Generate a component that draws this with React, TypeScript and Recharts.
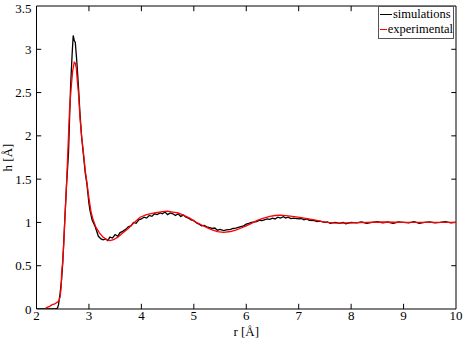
import { LineChart, Line, XAxis, YAxis, ReferenceLine } from 'recharts';

// simulated h(r)
const simR = [
  2.0, 2.35, 2.4, 2.42, 2.45, 2.48, 2.5, 2.52, 2.54, 2.57, 2.61, 2.65, 2.68, 2.7, 2.72, 2.74, 2.77, 2.8,
  2.83, 2.86, 2.9, 2.93, 2.96, 3.0, 3.02, 3.06, 3.12, 3.18, 3.23, 3.27, 3.32, 3.36, 3.4, 3.45, 3.5, 3.55,
  3.59, 3.65, 3.7, 3.75, 3.8, 3.85, 3.9, 3.95, 4.0, 4.05, 4.1, 4.15, 4.2, 4.25, 4.3, 4.36, 4.4, 4.45, 4.5,
  4.55, 4.6, 4.65, 4.7, 4.75, 4.8, 4.85, 4.9, 4.95, 5.0, 5.06, 5.1, 5.15, 5.2, 5.25, 5.3, 5.35, 5.4, 5.45,
  5.5, 5.57, 5.62, 5.7, 5.75, 5.8, 5.88, 5.95, 6.0, 6.05, 6.1, 6.2, 6.25, 6.3, 6.4, 6.45, 6.5, 6.55, 6.6,
  6.65, 6.71, 6.75, 6.8, 6.85, 6.9, 7.0, 7.05, 7.1, 7.16, 7.2, 7.3, 7.35, 7.4, 7.5, 7.55, 7.6, 7.7, 7.78,
  7.85, 7.9, 8.0, 8.1, 8.2, 8.3, 8.4, 8.5, 8.6, 8.7, 8.8, 8.9, 9.0, 9.1, 9.2, 9.3, 9.4, 9.5, 9.6, 9.7, 9.8,
  9.9, 10.0,
];
const simH = [
  0, 0, 0.01, 0.05, 0.18, 0.35, 0.53, 0.78, 1.03, 1.4, 1.8, 2.57, 2.95, 3.16, 3.1, 3.08, 2.85, 2.57,
  2.25, 1.99, 1.75, 1.57, 1.45, 1.22, 1.14, 1.03, 0.95, 0.84, 0.81, 0.8, 0.81, 0.79, 0.83, 0.82, 0.86, 0.84,
  0.88, 0.9, 0.92, 0.95, 0.96, 1.0, 0.99, 1.03, 1.04, 1.06, 1.05, 1.08, 1.07, 1.1, 1.09, 1.11, 1.1, 1.12, 1.09,
  1.11, 1.1, 1.08, 1.1, 1.07, 1.085, 1.06, 1.05, 1.03, 1.02, 0.99, 0.98, 0.96, 0.965, 0.95, 0.94, 0.93, 0.935, 0.91,
  0.92, 0.905, 0.915, 0.92, 0.93, 0.935, 0.95, 0.96, 0.98, 0.99, 1.0, 1.01, 1.025, 1.02, 1.04, 1.035, 1.05, 1.04, 1.06,
  1.05, 1.066, 1.05, 1.06, 1.045, 1.05, 1.04, 1.045, 1.03, 1.04, 1.025, 1.02, 1.01, 1.015, 1.0, 1.005, 0.99, 1.0, 0.99,
  1.0, 0.985, 1.0, 0.995, 1.005, 0.99, 1.0, 1.01, 0.995, 1.005, 0.99, 1.005, 1.0, 0.995, 1.01, 0.99, 1.0, 1.005, 0.995, 1.0, 1.01,
  0.995, 1.0,
];

// experimental h(r), red trace
const expR = [
  2.16, 2.2, 2.25, 2.3, 2.35, 2.4, 2.43, 2.45, 2.47, 2.48, 2.5, 2.52, 2.54, 2.57, 2.6, 2.63, 2.66, 2.69,
  2.72, 2.74, 2.76, 2.78, 2.8, 2.83, 2.86, 2.9, 2.93, 2.96, 3.0, 3.04, 3.08, 3.13, 3.2, 3.27, 3.34, 3.4,
  3.47, 3.55, 3.65, 3.75, 3.85, 3.975, 4.1, 4.25, 4.4, 4.5, 4.6, 4.7, 4.8, 4.93, 5.05, 5.15, 5.25, 5.35,
  5.45, 5.57, 5.7, 5.8, 5.88, 6.0, 6.1, 6.2, 6.3, 6.45, 6.55, 6.65, 6.8, 6.95, 7.05, 7.16, 7.3, 7.45, 7.55,
  7.66, 7.8, 8.0, 8.3, 8.6, 9.0, 9.5, 10.0,
];
const expH = [
  0, 0.02, 0.03, 0.05, 0.06, 0.08, 0.1, 0.14, 0.25, 0.42, 0.55, 0.75, 1.03, 1.4, 1.85, 2.3, 2.55, 2.75,
  2.85, 2.84, 2.78, 2.62, 2.5, 2.2, 2.0, 1.78, 1.6, 1.47, 1.28, 1.12, 1.03, 0.95, 0.88, 0.83, 0.8, 0.79,
  0.8, 0.83, 0.88, 0.93, 0.99, 1.06, 1.09, 1.11, 1.125, 1.13, 1.12, 1.11, 1.085, 1.047, 1.0, 0.97, 0.94, 0.915,
  0.895, 0.885, 0.895, 0.91, 0.93, 0.96, 0.99, 1.02, 1.045, 1.07, 1.08, 1.085, 1.075, 1.065, 1.055, 1.045, 1.03, 1.01, 1.0,
  0.995, 0.993, 0.995, 1.0, 1.005, 1.0, 1.0, 1.0,
];

const xTicks = [2, 3, 4, 5, 6, 7, 8, 9, 10];
const yTicks = [0, 0.5, 1, 1.5, 2, 2.5, 3, 3.5];

const simData = simR.map((r, i) => ({ r, h: simH[i] }));
const expData = expR.map((r, i) => ({ r, h: expH[i] }));

const font = '"Liberation Serif", "Times New Roman", serif';
const tickStyle = { fill: '#000', fontSize: 13, fontFamily: font, style: { fontFamily: font } };

function LegendBox() {
  const row = (color: string, text: string) => (
    <div style={{ display: 'flex', alignItems: 'center', height: 15 }}>
      <span style={{ display: 'inline-block', width: 12, height: 0, borderTop: `1.5px solid ${color}`, marginRight: 1 }} />
      <span>{text}</span>
    </div>
  );
  return (
    <div
      style={{
        position: 'absolute',
        top: 6,
        left: 378,
        width: 76,
        boxSizing: 'border-box',
        border: '1px solid #555',
        background: '#fff',
        fontFamily: font,
        fontSize: 12.5,
        color: '#000',
        padding: '0 0 1px 1px',
        lineHeight: '15px',
        whiteSpace: 'nowrap',
      }}
    >
      {row('#000', 'simulations')}
      {row('#ff0000', 'experimental')}
    </div>
  );
}

export default function App() {
  return (
    <div style={{ position: 'relative', width: 463, height: 341, background: '#fff', fontFamily: font }}>
      <style>{'body{margin:0}'}</style>
      <LineChart width={463} height={341} margin={{ top: 6, right: 7, bottom: 2, left: 6 }}>
        <XAxis
          type="number"
          dataKey="r"
          domain={[2, 10]}
          ticks={xTicks}
          allowDataOverflow
          tickLine={false}
          tickSize={0}
          tickMargin={2}
          height={30}
          axisLine={{ stroke: '#000' }}
          tick={tickStyle}
          label={{ value: 'r [Å]', position: 'insideBottom', offset: 3, style: { fill: '#000', fontSize: 13, fontFamily: font } }}
        />
        <YAxis
          type="number"
          domain={[0, 3.5]}
          ticks={yTicks}
          allowDataOverflow
          tickLine={false}
          tickSize={0}
          tickMargin={5}
          width={30.5}
          axisLine={{ stroke: '#000' }}
          tick={tickStyle}
          label={{
            value: 'h [Å]',
            angle: -90,
            position: 'insideLeft',
            offset: 1,
            style: { fill: '#000', fontSize: 13, fontFamily: font, textAnchor: 'middle' },
          }}
        />
        <ReferenceLine y={3.5} stroke="#000" />
        <ReferenceLine x={10} stroke="#000" />
        {xTicks.slice(1, -1).map((t) => (
          <ReferenceLine key={'xb' + t} segment={[{ x: t, y: 0 }, { x: t, y: 0.06 }]} stroke="#000" />
        ))}
        {xTicks.slice(1, -1).map((t) => (
          <ReferenceLine key={'xt' + t} segment={[{ x: t, y: 3.5 }, { x: t, y: 3.44 }]} stroke="#000" />
        ))}
        {yTicks.slice(1, -1).map((t) => (
          <ReferenceLine key={'yl' + t} segment={[{ x: 2, y: t }, { x: 2.09, y: t }]} stroke="#000" />
        ))}
        {yTicks.slice(1, -1).map((t) => (
          <ReferenceLine key={'yr' + t} segment={[{ x: 10, y: t }, { x: 9.91, y: t }]} stroke="#000" />
        ))}
        <Line
          data={simData}
          dataKey="h"
          name="simulations"
          stroke="#000"
          strokeWidth={1.3}
          dot={false}
          isAnimationActive={false}
        />
        <Line
          data={expData}
          dataKey="h"
          name="experimental"
          stroke="#ff0000"
          strokeWidth={1.3}
          dot={false}
          isAnimationActive={false}
        />
      </LineChart>
      <LegendBox />
    </div>
  );
}
